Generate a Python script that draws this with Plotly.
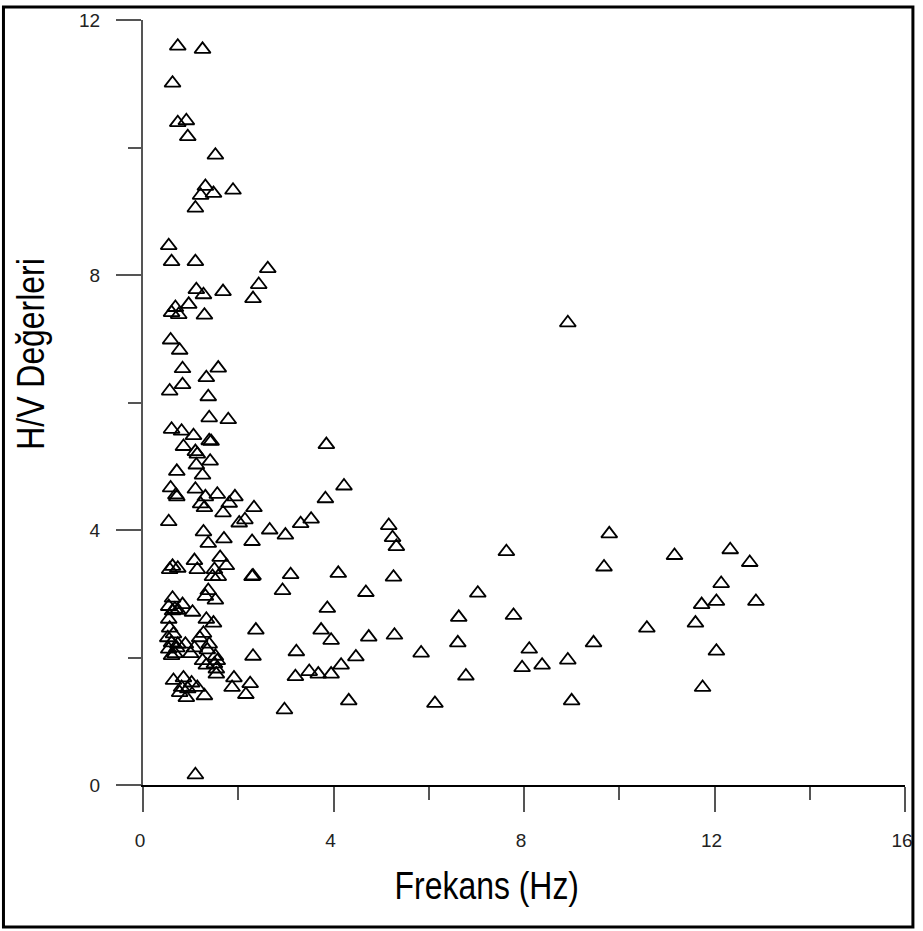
import plotly.graph_objects as go

# Frekans (Hz)
freq = [
    0.73, 1.25, 0.62, 0.73, 0.91, 0.94, 1.52, 1.31, 1.21, 1.48, 1.89, 1.10,
    0.54, 0.60, 1.10, 2.62, 2.43, 1.12, 1.27, 1.68, 2.31, 0.96, 0.68, 0.60,
    0.75, 1.29, 0.58, 0.77, 0.83, 1.58, 1.33, 0.83, 0.56, 1.37, 1.39, 1.79,
    0.60, 0.81, 1.06, 1.39, 1.43, 0.85, 1.10, 1.14, 1.41, 1.12, 0.71, 1.25,
    0.58, 0.69, 0.71, 1.10, 1.31, 1.56, 1.21, 1.29, 1.93, 1.81, 1.68, 2.33,
    0.54, 2.02, 2.14, 3.31, 1.27, 1.37, 1.70, 2.29, 2.66, 2.99, 0.62, 0.73,
    0.56, 1.08, 1.14, 1.62, 1.75, 1.50, 1.46, 1.58, 2.29, 2.31, 3.10, 2.93,
    1.37, 1.31, 1.52, 0.62, 0.54, 0.67, 0.62, 0.73, 0.83, 1.04, 0.54, 1.33,
    1.48, 2.37, 0.56, 0.64, 0.52, 1.27, 1.19, 0.60, 0.73, 0.54, 0.67, 0.60,
    0.71, 0.89, 1.08, 1.00, 1.39, 1.35, 1.52, 1.56, 1.50, 1.54, 1.54, 1.25,
    1.33, 2.31, 3.22, 3.20, 1.91, 1.87, 2.25, 2.16, 0.64, 0.85, 0.81, 0.94,
    0.91, 1.14, 1.29, 0.77, 1.02, 2.97, 1.10,
    8.92, 3.85, 4.22, 3.83, 3.53, 5.16, 5.24, 5.32, 7.63, 9.79, 9.68, 4.10,
    5.26, 4.68, 7.03, 3.87, 6.63, 7.78, 3.74, 3.95, 4.74, 5.28, 5.84, 6.61,
    8.11, 9.46, 4.47, 4.16, 3.49, 3.68, 3.95, 6.78, 7.96, 8.38, 8.92, 4.32,
    6.13, 9.00, 11.16, 12.33, 12.74, 12.14, 11.73, 12.04, 12.87, 10.58, 11.60,
    12.04, 11.75,
]

# H/V Değerleri
hv = [
    11.59, 11.54, 11.01, 10.39, 10.42, 10.17, 9.88, 9.39, 9.25, 9.28, 9.33, 9.05,
    8.46, 8.21, 8.21, 8.10, 7.85, 7.77, 7.69, 7.74, 7.63, 7.54, 7.49, 7.41,
    7.38, 7.37, 6.98, 6.82, 6.53, 6.54, 6.39, 6.28, 6.18, 6.09, 5.76, 5.73,
    5.58, 5.55, 5.48, 5.40, 5.39, 5.31, 5.23, 5.19, 5.08, 5.02, 4.92, 4.86,
    4.66, 4.55, 4.52, 4.64, 4.52, 4.56, 4.41, 4.35, 4.52, 4.42, 4.27, 4.35,
    4.13, 4.11, 4.16, 4.10, 3.97, 3.79, 3.86, 3.82, 4.00, 3.92, 3.43, 3.40,
    3.38, 3.52, 3.38, 3.57, 3.44, 3.38, 3.27, 3.27, 3.27, 3.28, 3.30, 3.05,
    3.05, 2.96, 2.90, 2.93, 2.80, 2.76, 2.73, 2.74, 2.83, 2.71, 2.60, 2.60,
    2.54, 2.43, 2.46, 2.37, 2.31, 2.38, 2.31, 2.23, 2.21, 2.13, 2.06, 2.03,
    2.15, 2.21, 2.15, 2.06, 2.21, 2.12, 2.02, 1.95, 1.90, 1.82, 1.74, 1.95,
    1.88, 2.02, 2.09, 1.70, 1.68, 1.53, 1.59, 1.42, 1.64, 1.68, 1.53, 1.51,
    1.37, 1.53, 1.40, 1.45, 1.60, 1.18, 0.16,
    7.25, 5.34, 4.69, 4.49, 4.17, 4.07, 3.88, 3.74, 3.66, 3.94, 3.42, 3.32,
    3.26, 3.02, 3.01, 2.77, 2.63, 2.66, 2.43, 2.27, 2.32, 2.35, 2.07, 2.23,
    2.13, 2.23, 2.01, 1.88, 1.78, 1.74, 1.74, 1.71, 1.84, 1.88, 1.96, 1.32,
    1.28, 1.32, 3.60, 3.69, 3.49, 3.16, 2.83, 2.88, 2.88, 2.46, 2.54,
    2.10, 1.53,
]

x_major = [0, 4, 8, 12, 16]
x_minor = [2, 6, 10, 14]
y_major = [0, 4, 8, 12]
y_minor = [2, 6, 10]

W, H = 923, 931
L, R, T, B = 143, 10, 15, 146
PW, PH = W - L - R, H - T - B


def px(xp):
    return (xp - L) / PW


def py(yp):
    return (H - B - yp) / PH


fig = go.Figure()
fig.add_trace(go.Scatter(
    x=freq, y=hv, mode="markers",
    marker=dict(symbol="triangle-up-open", size=14, color="black",
                line=dict(width=1.8, color="black")),
    cliponaxis=False, showlegend=False,
))

tick_font = dict(family="Liberation Sans, Arial, sans-serif", size=19, color="#222")
title_font = dict(family="Liberation Sans, Arial, sans-serif", size=38, color="black")

fig.update_layout(
    width=W, height=H, autosize=False,
    margin=dict(l=L, r=R, t=T, b=B, pad=0),
    paper_bgcolor="white", plot_bgcolor="white",
    xaxis=dict(
        range=[0, 16], showgrid=False, zeroline=False,
        showline=True, linecolor="black", linewidth=2,
        ticks="outside", tickvals=x_major, ticktext=[str(v) for v in x_major],
        ticklen=25, tickwidth=2, tickcolor="#555",
        ticklabelstandoff=12, ticklabelshift=-3, tickfont=tick_font,
        minor=dict(ticks="outside", tickvals=x_minor, ticklen=13,
                   tickwidth=2, tickcolor="#555", showgrid=False),
    ),
    yaxis=dict(
        range=[0, 12], showgrid=False, zeroline=False,
        showline=True, linecolor="#555", linewidth=2,
        ticks="outside", tickvals=y_major, ticktext=[str(v) for v in y_major],
        ticklen=25, tickwidth=2, tickcolor="#555",
        ticklabelstandoff=12, tickfont=tick_font,
        minor=dict(ticks="outside", tickvals=y_minor, ticklen=13,
                   tickwidth=2, tickcolor="#555", showgrid=False),
    ),
    annotations=[
        dict(text="Frekans (Hz)", xref="paper", yref="paper",
             x=px(491), y=py(887), xanchor="center", yanchor="middle",
             showarrow=False, font=title_font),
        dict(text="H/V Değerleri", xref="paper", yref="paper",
             x=px(30), y=py(351), xanchor="center", yanchor="middle",
             textangle=-90, showarrow=False, font=title_font),
    ],
    shapes=[
        dict(type="rect", xref="paper", yref="paper",
             x0=px(2), x1=px(921), y0=py(928), y1=py(2),
             line=dict(color="black", width=3), fillcolor="rgba(0,0,0,0)",
             layer="above"),
    ],
)

# Remove the default page margin, hide the modebar, narrow the axis titles.
post = """
document.body.style.margin = '0';
document.body.style.overflow = 'hidden';
var st = document.createElement('style');
st.textContent = '.modebar-container, .modebar { display: none !important; }';
document.head.appendChild(st);
function narrowTitles() {
  document.querySelectorAll('text.annotation-text').forEach(function (t) {
    t.style.transformBox = 'fill-box';
    t.style.transformOrigin = 'center';
    t.style.transform = 'scaleX(0.84)';
  });
}
narrowTitles();
var gd = document.getElementById('{plot_id}');
if (gd && gd.on) { gd.on('plotly_afterplot', narrowTitles); }
"""

fig.write_html("out.html", post_script=post)
